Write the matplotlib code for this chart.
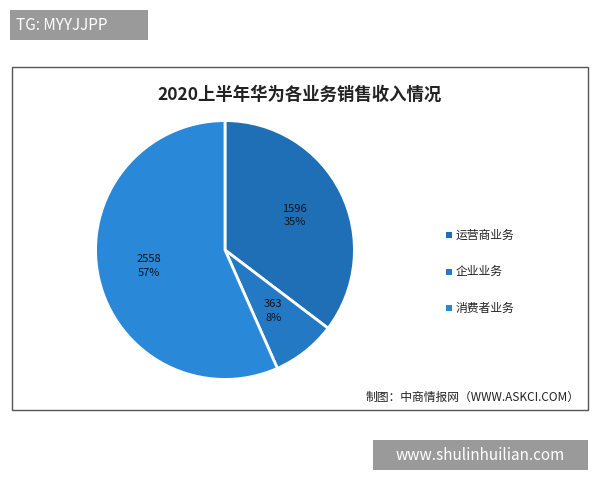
import matplotlib.pyplot as plt
from matplotlib.patches import Rectangle

plt.rcParams['font.family'] = ['Noto Sans CJK SC', 'DejaVu Sans']

categories = ["运营商业务", "企业业务", "消费者业务"]
values = [1596, 363, 2558]
pcts = ["35%", "8%", "57%"]
colors = ["#1f6fb6", "#2479c5", "#2a88d8"]

fig = plt.figure(figsize=(6, 4.8), dpi=100)
fig.patch.set_facecolor("white")

# frame of the chart
fig.add_artist(Rectangle((12/600, 1-410/480), 576/600, 343/480, transform=fig.transFigure,
                         fill=False, edgecolor="#555555", linewidth=1))
# watermark-ish boxes
fig.add_artist(Rectangle((10/600, 1-40/480), 138/600, 30/480, transform=fig.transFigure,
                         facecolor="#9a9a9a", edgecolor="none"))
fig.text(16/600, 1-25/480, "TG: MYYJJPP", color="white", fontsize=11, va="center")
fig.add_artist(Rectangle((373/600, 1-470/480), 215/600, 30/480, transform=fig.transFigure,
                         facecolor="#9a9a9a", edgecolor="none"))
fig.text(480/600, 1-455/480, "www.shulinhuilian.com", color="white", fontsize=11,
         va="center", ha="center")

fig.text(300/600, 1-95/480, "2020上半年华为各业务销售收入情况", fontsize=12.5,
         fontweight="bold", ha="center", va="center", color="#222222")
fig.text(580/600, 1-397/480, "制图：中商情报网（WWW.ASKCI.COM）", fontsize=8.5,
         ha="right", va="center", color="#222222")

ax = fig.add_axes([93/600, 1-382/480, 264/600, 264/480])
idx = iter(range(len(values)))
ax.pie(values, colors=colors, startangle=90, counterclock=False, radius=1,
       wedgeprops=dict(edgecolor="white", linewidth=2),
       autopct=lambda p: (lambda i: f"{values[i]}\n{pcts[i]}")(next(idx)),
       pctdistance=0.6, textprops=dict(color="#111111", fontsize=8, linespacing=1.4))
ax.set_xlim(-1.02, 1.02)
ax.set_ylim(-1.02, 1.02)
ax.axis("off")

for i, (c, col) in enumerate(zip(categories, colors)):
    y = 1 - (235 + i * 36.5) / 480
    fig.add_artist(Rectangle((446/600, y - 3/480), 6/600, 6/480, transform=fig.transFigure,
                             facecolor=col, edgecolor="none"))
    fig.text(456/600, y, c, fontsize=8.5, va="center", color="#222222")

fig.savefig("out.png", dpi=100)
